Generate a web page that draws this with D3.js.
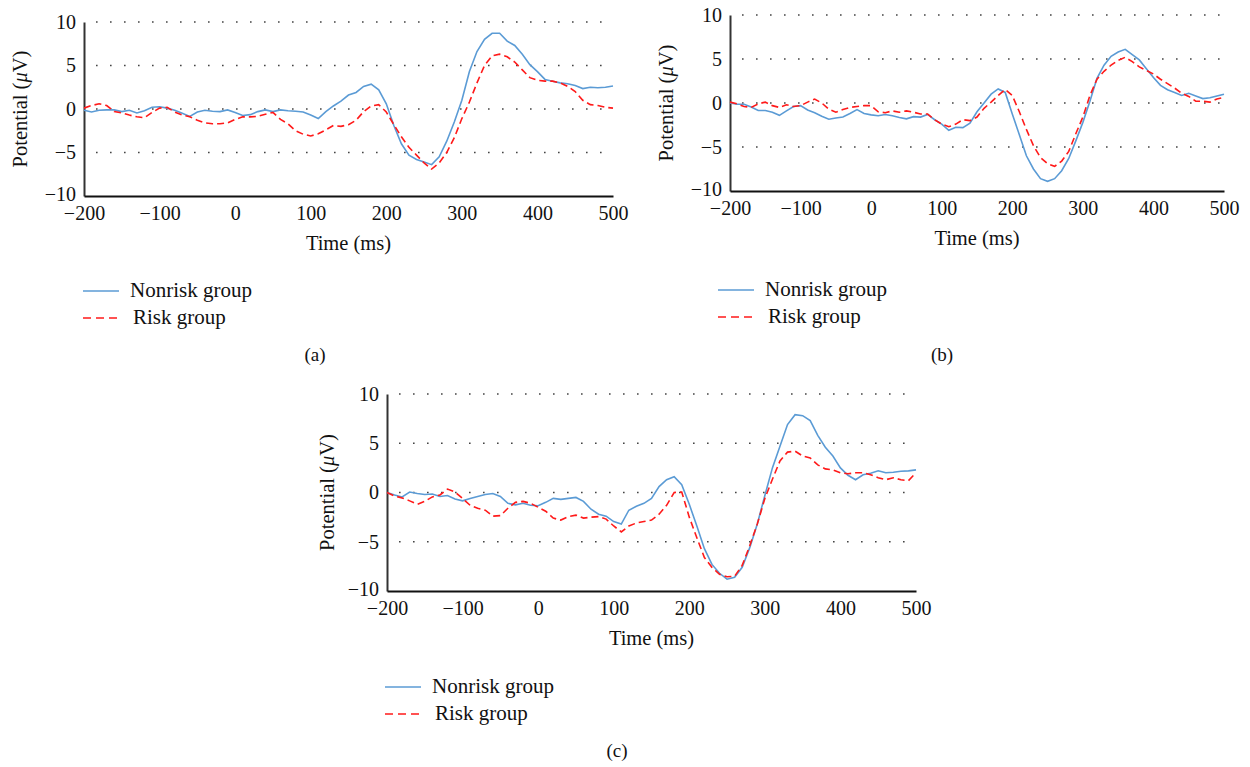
<!DOCTYPE html>
<html>
<head>
<meta charset="utf-8">
<script src="https://cdn.jsdelivr.net/npm/d3@7"></script>
<style>
  html, body { margin: 0; padding: 0; background: #fff; }
  svg text { font-family: "Liberation Serif", "DejaVu Serif", serif; fill: #111; }
</style>
</head>
<body>
<div id="erp-figure"></div>
<script>
// time points (ms)
const times = [
  -200, -190, -180, -170, -160, -150, -140, -130, -120, -110,
  -100, -90, -80, -70, -60, -50, -40, -30, -20, -10,
  0, 10, 20, 30, 40, 50, 60, 70, 80, 90,
  100, 110, 120, 130, 140, 150, 160, 170, 180, 190,
  200, 210, 220, 230, 240, 250, 260, 270, 280, 290,
  300, 310, 320, 330, 340, 350, 360, 370, 380, 390,
  400, 410, 420, 430, 440, 450, 460, 470, 480, 490, 500
];

// panel (a)
const nonriskA = [
  -0.15, -0.35, -0.15, -0.1, -0.1, -0.3, -0.15, -0.45, -0.2, 0.2,
  0.25, 0.1, -0.15, -0.5, -0.85, -0.35, -0.15, -0.25, -0.3, -0.1,
  -0.4, -0.75, -0.65, -0.3, -0.1, -0.3, -0.1, -0.2, -0.25, -0.35,
  -0.7, -1.1, -0.3, 0.35, 0.9, 1.6, 1.9, 2.6, 2.85, 2.2,
  0.6, -1.9, -4.0, -5.3, -5.8, -6.1, -6.4, -5.5, -3.7, -1.5,
  1.0, 4.3, 6.6, 8.0, 8.7, 8.7, 7.8, 7.3, 6.3, 5.1,
  4.3, 3.4, 3.2, 3.0, 2.9, 2.7, 2.35, 2.5, 2.45, 2.5, 2.65
];
const riskA = [
  0.1, 0.4, 0.6, 0.4, -0.3, -0.45, -0.7, -0.9, -1.0, -0.4,
  0.1, 0.2, -0.35, -0.7, -0.9, -1.3, -1.6, -1.7, -1.7, -1.6,
  -1.2, -0.9, -0.9, -0.85, -0.6, -0.4, -1.2, -1.7, -2.5, -2.9,
  -3.1, -2.85, -2.4, -1.9, -2.0, -1.8, -1.3, -0.3, 0.35, 0.5,
  -0.35, -1.8, -3.2, -4.4, -5.3, -6.2, -6.9, -6.2, -5.0, -3.3,
  -1.1, 0.8, 3.0, 5.0, 6.1, 6.3, 6.0, 5.4, 4.5, 3.6,
  3.3, 3.2, 3.2, 3.0, 2.6, 2.0, 1.0, 0.5, 0.4, 0.2, 0.1
];

// panel (b)
const nonriskB = [
  0.0, -0.15, -0.15, -0.45, -0.85, -0.85, -1.05, -1.4, -0.9, -0.4,
  -0.3, -0.8, -1.1, -1.5, -1.85, -1.7, -1.6, -1.2, -0.75, -1.2,
  -1.35, -1.45, -1.3, -1.45, -1.65, -1.8, -1.55, -1.6, -1.3, -1.9,
  -2.4, -3.1, -2.75, -2.8, -2.3, -1.0, 0.0, 1.0, 1.6, 1.2,
  -1.25, -3.6, -6.0, -7.5, -8.6, -8.9, -8.6, -7.7, -6.3, -4.3,
  -2.2, 0.2, 2.8, 4.3, 5.3, 5.8, 6.1, 5.5, 4.9, 3.9,
  2.9, 2.0, 1.5, 1.2, 0.85, 1.1, 0.8, 0.5, 0.6, 0.8, 1.0
];
const riskB = [
  0.1, -0.1, -0.4, -0.5, -0.1, 0.1, -0.3, -0.5, -0.2, -0.4,
  -0.3, 0.1, 0.45, 0.0, -0.7, -1.05, -0.75, -0.5, -0.4, -0.3,
  -0.3, -1.0, -1.1, -0.9, -1.05, -0.9, -1.05, -1.25, -1.25, -1.9,
  -2.4, -2.7, -2.4, -1.9, -2.0, -1.6, -0.6, 0.1, 0.85, 1.55,
  0.85, -1.0, -3.0, -4.85, -6.2, -6.9, -7.2, -6.6, -5.5, -3.5,
  -1.6, 0.85, 2.7, 3.6, 4.3, 4.85, 5.2, 4.7, 4.1, 3.7,
  3.3, 2.7, 2.2, 1.7, 1.1, 0.75, 0.2, 0.2, 0.1, 0.45, 0.65
];

// panel (c)
const nonriskC = [
  0.0, -0.25, -0.45, 0.05, -0.1, -0.2, -0.15, -0.4, -0.3, -0.65,
  -0.85, -0.6, -0.4, -0.2, -0.1, -0.4, -1.1, -1.25, -1.1, -1.3,
  -1.35, -1.0, -0.6, -0.7, -0.6, -0.5, -0.9, -1.7, -2.2, -2.4,
  -2.95, -3.2, -1.8, -1.4, -1.1, -0.6, 0.6, 1.3, 1.6, 0.8,
  -1.2, -3.4, -5.7, -7.3, -8.2, -8.8, -8.6, -7.6, -5.6, -3.2,
  -0.3, 2.5, 4.7, 6.9, 7.9, 7.8, 7.3, 5.8, 4.6, 3.7,
  2.5, 1.75, 1.3, 1.8, 1.95, 2.2, 2.0, 2.05, 2.15, 2.2, 2.3
];
const riskC = [
  0.0, -0.35, -0.55, -0.85, -1.2, -0.9, -0.45, -0.25, 0.35, 0.05,
  -0.6, -1.3, -1.6, -1.8, -2.4, -2.35, -1.6, -1.0, -0.9, -1.1,
  -1.5, -1.9, -2.6, -2.8, -2.45, -2.3, -2.6, -2.5, -2.45, -2.7,
  -3.4, -4.0, -3.4, -3.1, -2.95, -2.8, -2.2, -1.3, 0.0, 0.05,
  -2.5, -4.6, -6.6, -7.6, -8.3, -8.55, -8.5, -7.4, -5.4, -3.2,
  -0.6, 1.35, 3.2, 4.1, 4.2, 3.7, 3.5, 2.8, 2.4, 2.3,
  2.0, 1.9, 2.0, 2.0, 1.8, 1.5, 1.3, 1.5, 1.3, 1.2, 2.0
];

const xTicks = [-200, -100, 0, 100, 200, 300, 400, 500];
const yTicks = [-10, -5, 0, 5, 10];
const gridValues = [-5, 0, 5, 10];
const legendLabels = ['Nonrisk group', 'Risk group'];

const blue = '#5b9bd5';
const red = '#ff1a1a';

const width = 1250;
const height = 767;

const svg = d3.select('#erp-figure')
  .append('svg')
  .attr('width', width)
  .attr('height', height);

const panels = [
  { tag: '(a)', series: [nonriskA, riskA], left: 84, right: 613, top: 22, bottom: 196,
    legX: 83, legY: 291, tagX: 315, tagY: 361, labelX: 20 },
  { tag: '(b)', series: [nonriskB, riskB], left: 730, right: 1224, top: 15, bottom: 191,
    legX: 718, legY: 290, tagX: 942, tagY: 361, labelX: 666 },
  { tag: '(c)', series: [nonriskC, riskC], left: 387, right: 916, top: 394, bottom: 591,
    legX: 385, legY: 687, tagX: 617, tagY: 757, labelX: 327 }
];

const fmt = d => d < 0 ? '\u2212' + Math.abs(d) : String(d);

panels.forEach(p => {
  const x = d3.scaleLinear().domain([-200, 500]).range([p.left, p.right]);
  const y = d3.scaleLinear().domain([-10, 10]).range([p.bottom, p.top]);
  const g = svg.append('g');

  // dotted grid
  g.selectAll('.grid')
    .data(gridValues)
    .enter()
    .append('line')
    .attr('x1', p.left + 12)
    .attr('x2', p.right)
    .attr('y1', d => y(d))
    .attr('y2', d => y(d))
    .style('stroke', '#444')
    .style('stroke-width', 1.6)
    .style('stroke-dasharray', '1.6,12.4');

  // y axis
  const yAxis = g.append('g')
    .attr('transform', `translate(${p.left},0)`)
    .call(d3.axisLeft(y).tickValues(yTicks).tickSize(0).tickPadding(8).tickFormat(fmt));
  yAxis.select('.domain').style('stroke', '#333').style('stroke-width', 2);
  yAxis.selectAll('text')
    .attr('dy', d => d === -10 ? '0.22em' : '0.32em')
    .style('font-size', '20px')
    .style('font-family', '"Liberation Serif", serif');

  // x axis
  const xAxis = g.append('g')
    .attr('transform', `translate(0,${p.bottom})`)
    .call(d3.axisBottom(x).tickValues(xTicks).tickSize(0).tickPadding(10).tickFormat(fmt));
  xAxis.select('.domain').style('stroke', '#111').style('stroke-width', 2);
  xAxis.selectAll('text').style('font-size', '20px').style('font-family', '"Liberation Serif", serif');

  // axis titles
  g.append('text')
    .attr('x', (p.left + p.right) / 2)
    .attr('y', p.bottom + 54)
    .attr('text-anchor', 'middle')
    .style('font-size', '20.5px')
    .text('Time (ms)');

  const yTitle = g.append('text')
    .attr('transform', `translate(${p.labelX + 7},${(p.top + p.bottom) / 2}) rotate(-90)`)
    .attr('text-anchor', 'middle')
    .style('font-size', '20.5px');
  yTitle.append('tspan').text('Potential (');
  yTitle.append('tspan').style('font-style', 'italic').text('\u03bc');
  yTitle.append('tspan').text('V)');

  // curves
  const line = d3.line()
    .x((d, i) => x(times[i]))
    .y(d => y(d));

  g.append('path')
    .datum(p.series[0])
    .attr('d', line)
    .style('fill', 'none')
    .style('stroke', blue)
    .style('stroke-width', 1.6);

  g.append('path')
    .datum(p.series[1])
    .attr('d', line)
    .style('fill', 'none')
    .style('stroke', red)
    .style('stroke-width', 1.6)
    .style('stroke-dasharray', '7,4');

  // legend
  const leg = g.selectAll('.legend')
    .data(legendLabels)
    .enter()
    .append('g')
    .attr('transform', (d, i) => `translate(${p.legX},${p.legY + i * 27})`);

  leg.append('line')
    .attr('x1', 0)
    .attr('x2', 36)
    .style('stroke', (d, i) => i === 0 ? blue : red)
    .style('stroke-width', 1.6)
    .style('stroke-dasharray', (d, i) => i === 0 ? null : '8,5');

  leg.append('text')
    .attr('x', (d, i) => i === 0 ? 47 : 50)
    .attr('y', 6)
    .style('font-size', '21px')
    .text(d => d);

  g.append('text')
    .attr('x', p.tagX)
    .attr('y', p.tagY)
    .attr('text-anchor', 'middle')
    .style('font-size', '19px')
    .text(p.tag);
});
</script>
</body>
</html>
